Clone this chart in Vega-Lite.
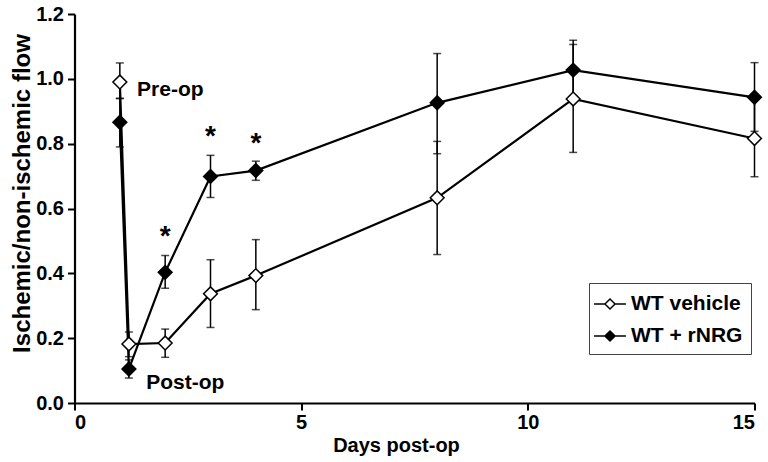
{
  "$schema": "https://vega.github.io/schema/vega-lite/v6.json",
  "width": 680,
  "height": 389,
  "autosize": {"type": "none"},
  "padding": {"left": 74.5, "top": 14, "right": 13, "bottom": 59},
  "background": "white",
  "config": {
    "view": {"stroke": null},
    "font": "Liberation Sans",
    "axis": {
      "grid": false,
      "domainColor": "black",
      "domainWidth": 2.2,
      "tickColor": "black",
      "tickWidth": 2,
      "tickSize": 7,
      "labelFont": "Liberation Sans",
      "labelFontWeight": "bold",
      "labelFontSize": 20,
      "labelColor": "black",
      "titleFont": "Liberation Sans",
      "titleFontWeight": "bold",
      "titleFontSize": 20,
      "titleColor": "black"
    },
    "legend": {
      "labelFont": "Liberation Sans",
      "labelFontWeight": "bold",
      "labelFontSize": 21,
      "labelColor": "black"
    }
  },
  "datasets": {
    "flow": [
      {"series": "WT vehicle", "day": 1.0, "value": 0.99, "lo": 0.94, "hi": 1.049},
      {"series": "WT vehicle", "day": 1.2, "value": 0.182, "lo": 0.143, "hi": 0.219},
      {"series": "WT vehicle", "day": 2, "value": 0.185, "lo": 0.141, "hi": 0.228},
      {"series": "WT vehicle", "day": 3, "value": 0.337, "lo": 0.233, "hi": 0.442},
      {"series": "WT vehicle", "day": 4, "value": 0.393, "lo": 0.288, "hi": 0.504},
      {"series": "WT vehicle", "day": 8, "value": 0.633, "lo": 0.458, "hi": 0.807},
      {"series": "WT vehicle", "day": 11, "value": 0.938, "lo": 0.773, "hi": 1.106},
      {"series": "WT vehicle", "day": 15, "value": 0.816, "lo": 0.698, "hi": 0.934},
      {"series": "WT + rNRG", "day": 1.0, "value": 0.866, "lo": 0.79, "hi": 0.939},
      {"series": "WT + rNRG", "day": 1.2, "value": 0.105, "lo": 0.077, "hi": 0.133},
      {"series": "WT + rNRG", "day": 2, "value": 0.403, "lo": 0.354, "hi": 0.455},
      {"series": "WT + rNRG", "day": 3, "value": 0.699, "lo": 0.634, "hi": 0.764},
      {"series": "WT + rNRG", "day": 4, "value": 0.717, "lo": 0.687, "hi": 0.746},
      {"series": "WT + rNRG", "day": 8, "value": 0.926, "lo": 0.769, "hi": 1.078},
      {"series": "WT + rNRG", "day": 11, "value": 1.027, "lo": 0.935, "hi": 1.119},
      {"series": "WT + rNRG", "day": 15, "value": 0.943, "lo": 0.838, "hi": 1.05}
    ],
    "labels": [
      {"day": 1.38, "value": 0.965, "text": "Pre-op"},
      {"day": 1.58, "value": 0.063, "text": "Post-op"}
    ],
    "stars": [
      {"day": 2, "value": 0.487, "text": "*"},
      {"day": 3, "value": 0.796, "text": "*"},
      {"day": 4, "value": 0.775, "text": "*"}
    ]
  },
  "layer": [
    {
      "data": {"name": "flow"},
      "mark": {"type": "errorbar", "color": "black", "thickness": 1.5, "ticks": {"size": 8, "thickness": 1.5, "color": "black"}},
      "encoding": {
        "x": {"field": "day", "type": "quantitative", "scale": {"domain": [0, 15], "nice": false},
              "axis": {"values": [0, 5, 10, 15], "title": "Days post-op", "labelPadding": 2,
                       "titleX": 321.5, "titleY": 48, "titleBaseline": "alphabetic", "titleAlign": "center"}},
        "y": {"field": "lo", "type": "quantitative", "scale": {"domain": [0, 1.2], "nice": false},
              "axis": {"values": [0, 0.2, 0.4, 0.6, 0.8, 1.0, 1.2], "format": ".1f", "title": "Ischemic/non-ischemic flow", "labelPadding": 4,
                       "titleX": -52, "titleY": 179, "titleAngle": 270, "titleAlign": "center", "titleBaseline": "middle", "titleFontSize": 24}},
        "y2": {"field": "hi"},
        "detail": {"field": "series"}
      }
    },
    {
      "data": {"name": "flow"},
      "mark": {"type": "line", "color": "black", "strokeWidth": 2.2},
      "encoding": {
        "x": {"field": "day", "type": "quantitative"},
        "y": {"field": "value", "type": "quantitative"},
        "detail": {"field": "series"},
        "order": {"field": "day"}
      }
    },
    {
      "data": {"name": "flow"},
      "mark": {"type": "point", "shape": "diamond", "size": 190, "filled": true, "stroke": "black", "strokeWidth": 1.5, "opacity": 1},
      "encoding": {
        "x": {"field": "day", "type": "quantitative"},
        "y": {"field": "value", "type": "quantitative"},
        "fill": {
          "field": "series", "type": "nominal",
          "scale": {"domain": ["WT vehicle", "WT + rNRG"], "range": ["white", "black"]},
          "legend": {
            "title": null,
            "orient": "none",
            "legendX": 514.5,
            "legendY": 269,
            "direction": "vertical",
            "strokeColor": "#444",
            "fillColor": "white",
            "padding": 8,
            "rowPadding": 9,
            "labelOffset": 8,
            "symbolType": "M-1.33,0L-0.42,0M0.42,0L1.33,0M-0.42,0L0,-0.42L0.42,0L0,0.42Z",
            "symbolSize": 576,
            "symbolStrokeColor": "black",
            "symbolStrokeWidth": 1.5,
            "symbolOpacity": 1
          }
        }
      }
    },
    {
      "data": {"name": "labels"},
      "mark": {"type": "text", "align": "left", "baseline": "middle", "fontSize": 21, "fontWeight": "bold", "font": "Liberation Sans", "color": "black"},
      "encoding": {
        "x": {"field": "day", "type": "quantitative"},
        "y": {"field": "value", "type": "quantitative"},
        "text": {"field": "text"}
      }
    },
    {
      "data": {"name": "stars"},
      "mark": {"type": "text", "align": "center", "baseline": "alphabetic", "fontSize": 28, "fontWeight": "bold", "font": "Liberation Sans", "color": "black"},
      "encoding": {
        "x": {"field": "day", "type": "quantitative"},
        "y": {"field": "value", "type": "quantitative"},
        "text": {"field": "text"}
      }
    }
  ]
}
